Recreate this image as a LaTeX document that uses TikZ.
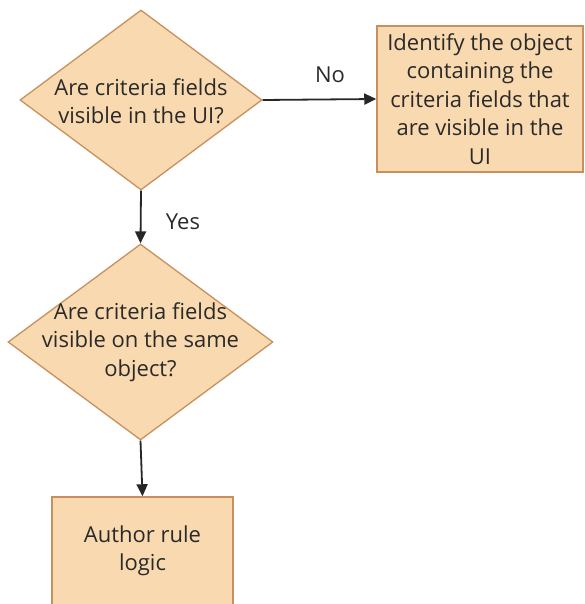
\documentclass[tikz,border=0pt]{standalone}
\usepackage{fontspec}
\setmainfont{Open Sans}
\usetikzlibrary{shapes.geometric,arrows.meta}
\definecolor{peach}{HTML}{F9D9AF}
\definecolor{edgec}{HTML}{C8905E}
\definecolor{ink}{HTML}{2A2A2A}
\begin{document}
\begin{tikzpicture}[x=1pt,y=-1pt,
  dec/.style={diamond, draw=edgec, fill=peach, line width=1.3pt, inner sep=0pt},
  box/.style={rectangle, draw=edgec, fill=peach, line width=1.5pt, inner sep=0pt},
  txt/.style={text=ink, font=\fontsize{22}{28.5}\selectfont, align=center, inner sep=0pt},
  conn/.style={draw=black!85, line width=1.8pt, -{Triangle[length=12pt,width=11pt]}}]
\useasboundingbox (0,0) rectangle (584,604);
\clip (0,0) rectangle (584,604);
\node[dec, minimum width=242pt, minimum height=180pt] (d1) at (141,100) {};
\node[txt] (t1) at (141,101) {Are criteria fields\\visible in the UI?};
\node[box, minimum width=206pt, minimum height=146pt] (b1) at (480,99) {};
\node[txt] (t2) at (480,99) {Identify the object\\containing the\\criteria fields that\\are visible in the\\UI};
\node[dec, minimum width=265pt, minimum height=196pt] (d2) at (140.5,342) {};
\node[txt] (t3) at (140.5,342) {Are criteria fields\\visible on the same\\object?};
\node[box, minimum width=181pt, minimum height=108pt] (b2) at (142.5,551) {};
\node[txt] (t4) at (142.5,551) {Author rule\\logic};
\draw[conn] (d1.east) -- (b1.west);
\draw[conn] (d1.south) -- (d2.north);
\draw[conn] (d2.south) -- (b2.north);
\node[txt] (no) at (330,75) {No};
\node[txt] (yes) at (183,222) {Yes};
\end{tikzpicture}
\end{document}
